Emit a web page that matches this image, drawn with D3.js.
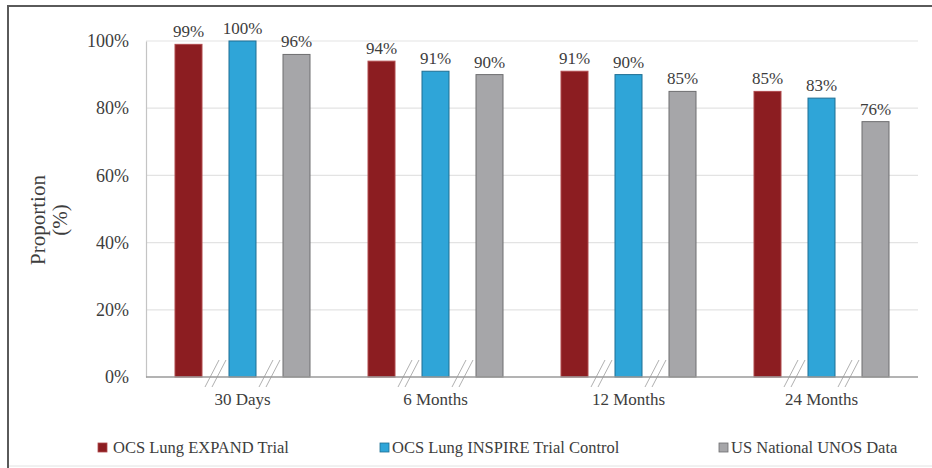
<!DOCTYPE html>
<html>
<head>
<meta charset="utf-8">
<script src="https://cdn.jsdelivr.net/npm/d3@7/dist/d3.min.js"></script>
<style>
  html, body { margin: 0; padding: 0; background: #fff; }
  svg { display: block; }
  text { font-family: "Liberation Serif", "Times New Roman", serif; fill: #3d3d3d; }
</style>
</head>
<body>
<div id="chart"></div>
<script>
const categories = ["30 Days", "6 Months", "12 Months", "24 Months"];
const seriesNames = ["OCS Lung EXPAND Trial", "OCS Lung INSPIRE Trial Control", "US National UNOS Data"];
const expand = [99, 94, 91, 85];
const inspire = [100, 91, 90, 83];
const unos = [96, 90, 85, 76];
const yTicks = [0, 20, 40, 60, 80, 100];
const colors = ["#8c1d21", "#2fa5d8", "#a6a6a9"];
const strokes = ["#b04a4d", "#1f6f93", "#6e6e70"];

const W = 932, H = 468;
const margin = { left: 146, right: 14, top: 41, bottom: 91 };
const svg = d3.select("#chart").append("svg").attr("width", W).attr("height", H);

// frame
svg.append("line").attr("x1", 8).attr("x2", 8).attr("y1", 6).attr("y2", H).attr("stroke", "#5a5a5a").attr("stroke-width", 2);
svg.append("line").attr("x1", 7).attr("x2", W).attr("y1", 6).attr("y2", 6).attr("stroke", "#5a5a5a").attr("stroke-width", 2);
svg.append("line").attr("x1", 9).attr("x2", W).attr("y1", 466).attr("y2", 466).attr("stroke", "#e2e2e2").attr("stroke-width", 1);

const x0 = d3.scaleBand().domain(categories).range([margin.left, W - margin.right]).paddingInner(0).paddingOuter(0);
const x1 = d3.scaleBand().domain(seriesNames).range([-81, 81]).paddingInner(0.5).paddingOuter(0.25);
const y = d3.scaleLinear().domain([0, 100]).range([H - margin.bottom, margin.top]);

// gridlines
svg.append("g").selectAll("line").data(yTicks.filter(d => d > 0)).join("line")
  .attr("x1", margin.left).attr("x2", W - margin.right)
  .attr("y1", d => y(d)).attr("y2", d => y(d))
  .attr("stroke", "#e3e3e3").attr("stroke-width", 1.2);

// y axis
const yAxis = d3.axisLeft(y).tickValues(yTicks).tickFormat(d => d + "%").tickSize(0).tickPadding(17);
const gy = svg.append("g").attr("transform", `translate(${margin.left},0)`).call(yAxis);
gy.select(".domain").attr("stroke", "#c4c4c4").attr("stroke-width", 1.2);
gy.selectAll("text").attr("font-size", 18).attr("font-family", "Liberation Serif").attr("fill", "#3d3d3d");

// y title
const yt = svg.append("text").attr("transform", `translate(45,220) rotate(-90)`).attr("text-anchor", "middle").attr("font-size", 21);
yt.append("tspan").attr("x", 0).attr("dy", 0).text("Proportion");
yt.append("tspan").attr("x", 0).attr("dy", 22).text("(%)");

// bars
const data = categories.map((c, i) => ({ cat: c, vals: [expand[i], inspire[i], unos[i]] }));
const groups = svg.append("g").selectAll("g").data(data).join("g")
  .attr("transform", d => `translate(${x0(d.cat) + x0.bandwidth() / 2},0)`);

groups.selectAll("rect").data(d => d.vals.map((v, k) => ({ v, k }))).join("rect")
  .attr("x", d => x1(seriesNames[d.k]))
  .attr("width", x1.bandwidth())
  .attr("y", d => y(d.v))
  .attr("height", d => y(0) - y(d.v))
  .attr("fill", d => colors[d.k])
  .attr("stroke", d => strokes[d.k]).attr("stroke-width", 1);

groups.selectAll("text.val").data(d => d.vals.map((v, k) => ({ v, k }))).join("text")
  .attr("class", "val")
  .attr("x", d => x1(seriesNames[d.k]) + x1.bandwidth() / 2)
  .attr("y", d => y(d.v) - 7)
  .attr("text-anchor", "middle").attr("font-size", 17)
  .text(d => d.v + "%");

// x axis line
svg.append("line").attr("x1", margin.left).attr("x2", W - margin.right)
  .attr("y1", y(0)).attr("y2", y(0)).attr("stroke", "#9a9a9a").attr("stroke-width", 1.5);

// break marks between bars
const gaps = [0, 1].map(k => (x1(seriesNames[k]) + x1.bandwidth() + x1(seriesNames[k + 1])) / 2);
groups.each(function () {
  const g = d3.select(this);
  gaps.forEach(gx => {
    [-3.5, 3.5].forEach(off => {
      g.append("line")
        .attr("x1", gx + off - 7).attr("y1", y(0) + 10)
        .attr("x2", gx + off + 7).attr("y2", y(0) - 17)
        .attr("stroke", "#b0b0b0").attr("stroke-width", 1);
    });
  });
});

// x labels
const xAxis = d3.axisBottom(x0).tickSize(0).tickPadding(16);
const gx = svg.append("g").attr("transform", `translate(0,${y(0)})`).call(xAxis);
gx.select(".domain").remove();
gx.selectAll("text").attr("font-size", 17).attr("font-family", "Liberation Serif").attr("fill", "#3d3d3d");

// legend
const legendX = [98, 380, 719];
const lg = svg.append("g").selectAll("g").data(seriesNames).join("g")
  .attr("transform", (d, i) => `translate(${legendX[i]},443)`);
lg.append("rect").attr("width", 9).attr("height", 9).attr("fill", (d, i) => colors[i]).attr("stroke", (d, i) => strokes[i]).attr("stroke-width", 0.8);
lg.append("text").attr("x", (d, i) => i === 0 ? 15 : 12).attr("y", 9.5).attr("font-size", 16.5).text(d => d);
</script>
</body>
</html>
